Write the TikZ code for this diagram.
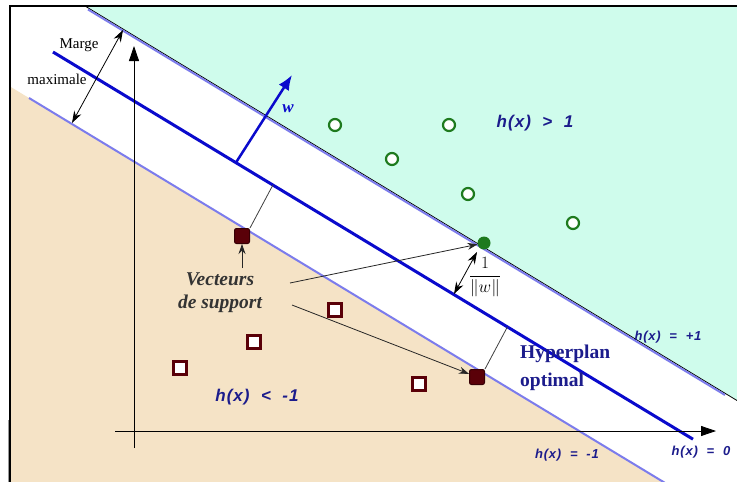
\documentclass[tikz,border=0pt]{standalone}
\usepackage{fontspec}
\setmainfont{Liberation Serif}
\newfontfamily\hfont[LetterSpace=6]{Liberation Sans}
\usetikzlibrary{arrows.meta}
\definecolor{cyanbg}{HTML}{CFFCEC}
\definecolor{tanbg}{HTML}{F5E3C6}
\definecolor{hyp}{HTML}{0A0ACC}
\definecolor{marg}{HTML}{7C7CEC}
\definecolor{navy}{HTML}{1C1C8C}
\definecolor{pgreen}{HTML}{1E7A1E}
\definecolor{pred}{HTML}{5A0008}
\definecolor{txtgrey}{HTML}{333333}
\begin{document}
\begin{tikzpicture}[x=1pt,y=-1pt,
  poscirc/.style={circle,draw=pgreen,line width=2.2pt,fill=white,minimum size=12pt,inner sep=0pt},
  posvec/.style={circle,fill=pgreen,minimum size=13pt,inner sep=0pt},
  negsq/.style={rectangle,draw=pred,line width=2.5pt,fill=white,minimum size=13pt,inner sep=0pt},
  negvec/.style={rectangle,rounded corners=2pt,fill=pred,draw=pred!60!black,line width=1pt,minimum size=15pt,inner sep=0pt},
  hbig/.style={text=navy,font=\hfont\bfseries\itshape\fontsize{17}{19}\selectfont,inner sep=0pt},
  hsmall/.style={text=navy,font=\hfont\bfseries\itshape\fontsize{13}{15}\selectfont,inner sep=0pt},
  thinarrow/.style={-{Stealth[length=10pt,width=7pt]},line width=0.8pt,black!85},
  dblarrow/.style={{Stealth[length=12pt,width=8pt]}-{Stealth[length=12pt,width=8pt]},line width=0.8pt,black},
  axisarrow/.style={-{Triangle[length=15pt,width=10pt]},line width=0.8pt,black},
  footline/.style={line width=0.8pt,black!75},
  marginline/.style={marg,line width=2pt},
]
\useasboundingbox (0,0) rectangle (737,482);
\fill[white] (0,0) rectangle (737,482);
\begin{scope}
\clip (0,0) rectangle (737,482);
% regions
\fill[tanbg] (10,86.5) -- (663.7,482) -- (10,482) -- cycle;
\fill[cyanbg] (85,6) -- (737,6) -- (737,400.5) -- cycle;
\draw[black,line width=0.8pt] (85,6) -- (737,400.5);
\draw[marginline] (88,9.5) -- (725,395);
\draw[marginline] (29,98) -- (680,492);
\draw[hyp,line width=3pt] (53,52) -- (693,439.2);
% frame
\draw[black!40,line width=1pt] (8,420) -- (8,482);
\draw[black,line width=1.2pt] (10,482) -- (10,6) -- (737,6);
\end{scope}
% axes
\coordinate (vy0) at (134,448);
\coordinate (vy1) at (134,46);
\coordinate (hx0) at (115,431);
\coordinate (hx1) at (716,431);
\draw[axisarrow] (vy0) -- (vy1);
\draw[axisarrow] (hx0) -- (hx1);
% w vector
\coordinate (wb) at (236,162.5);
\coordinate (wt) at (292,75);
\draw[hyp,line width=2.5pt,-{Latex[length=15pt,width=12pt]}] (wb) -- (wt);
\node[text=hyp,font=\bfseries\itshape\fontsize{17}{19}\selectfont] (wl) at (288,109) {w};
% marge maximale
\coordinate (mm1) at (72,123);
\coordinate (mm2) at (123,30);
\draw[dblarrow] (mm1) -- (mm2);
\node[font=\fontsize{15}{17}\selectfont,inner sep=0pt] (marge) at (79,45) {Marge};
\node[font=\fontsize{15}{17}\selectfont,inner sep=0pt] (maxi) at (57,79) {maximale};
% positive points
\node[poscirc] (p1) at (335,125) {};
\node[poscirc] (p2) at (449,125) {};
\node[poscirc] (p3) at (392,159) {};
\node[poscirc] (p4) at (468,194) {};
\node[poscirc] (p5) at (573,223) {};
\node[posvec] (gv) at (484,243) {};
% negative points
\node[negsq] (n1) at (335,310) {};
\node[negsq] (n2) at (254,342) {};
\node[negsq] (n3) at (180,368) {};
\node[negsq] (n4) at (419,384) {};
\node[negvec] (sv1) at (242,236) {};
\node[negvec] (sv2) at (477,377) {};
% perpendicular feet
\coordinate (f1) at (272.9,185);
\coordinate (f2) at (507.4,326.9);
\draw[footline] (sv1.north east) -- (f1);
\draw[footline] (sv2.north east) -- (f2);
% 1/||w||
\coordinate (u1) at (477,252);
\coordinate (u2) at (454,294);
\draw[dblarrow] (u1) -- (u2);
\node[font=\LARGE,inner sep=0pt] (invw) at (485,277) {$\displaystyle\frac{1}{\|w\|}$};
% vecteurs de support
\node[text=txtgrey,font=\bfseries\itshape\fontsize{19.5}{23}\selectfont,align=center,inner sep=0pt] (vs) at (220,293) {Vecteurs\\de support};
\coordinate (vsa) at (242,268);
\coordinate (vsb) at (290,283);
\coordinate (vsc) at (292,305);
\draw[thinarrow] (vsa) -- (sv1);
\draw[thinarrow] (vsb) -- (gv);
\draw[thinarrow] (vsc) -- (sv2);
% hyperplan label
\node[text=navy,font=\bfseries\fontsize{19.5}{28}\selectfont,align=left,anchor=west,inner sep=0pt] (hp) at (520,368) {Hyperplan\\optimal};
% h labels
\node[hbig] (hg) at (535,123) {h(x)\ \ >\ \ 1};
\node[hbig] (hl) at (257,397) {h(x)\ \ <\ \ -1};
\node[hsmall] (hp1) at (668,337) {h(x)\ \ =\ \ +1};
\node[hsmall] (hm1) at (567,455) {h(x)\ \ =\ \ -1};
\node[hsmall] (h0) at (701,452) {h(x)\ \ =\ \ 0};
\end{tikzpicture}
\end{document}
